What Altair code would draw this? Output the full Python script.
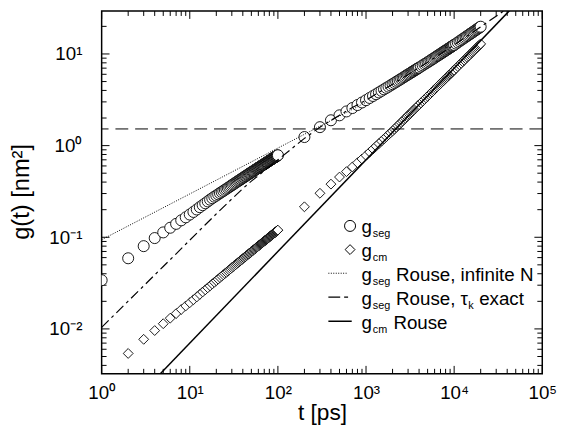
import altair as alt
import pandas as pd

FONT = "Liberation Sans, Arial, Helvetica, sans-serif"
W, H = 447, 368

# ---- data ----
t_data = list(range(1, 101)) + \
    [200, 300, 400, 500, 600, 700, 800, 900] + \
    [1000, 1100, 1200, 1300, 1400, 1500, 1600, 1700, 1800, 1900,
     2000, 2100, 2200, 2300, 2400, 2500, 2600, 2700, 2800, 2900,
     3000, 3100, 3200, 3300, 3400, 3500, 3600, 3700, 3800, 3900, 4000] + \
    [4200, 4400, 4600, 4800, 5000, 5200, 5400, 5600, 5800, 6000,
     6200, 6400, 6600, 6800, 7000, 7200, 7400, 7600, 7800, 8000,
     8200, 8400, 8600, 8800, 9000, 9200, 9400, 9600, 9800, 10000] + \
    [10500, 11000, 11500, 12000, 12500, 13000, 13500, 14000, 14500, 15000,
     15500, 16000, 16500, 17000, 17500, 18000, 18500, 19000, 19500, 20000]

g_seg = [0.034, 0.059, 0.080, 0.098, 0.113, 0.127, 0.140, 0.153, 0.165, 0.177,
         0.189, 0.201, 0.213, 0.224, 0.235, 0.246, 0.257, 0.267, 0.277, 0.285,
         0.294, 0.303, 0.312, 0.320, 0.329, 0.337, 0.345, 0.353, 0.361, 0.369,
         0.377, 0.385, 0.393, 0.400, 0.408, 0.415, 0.422, 0.429, 0.437, 0.444,
         0.451, 0.458, 0.465, 0.471, 0.478, 0.485, 0.492, 0.498, 0.505, 0.511,
         0.518, 0.524, 0.530, 0.536, 0.543, 0.549, 0.555, 0.561, 0.567, 0.573,
         0.579, 0.585, 0.591, 0.596, 0.602, 0.608, 0.613, 0.619, 0.624, 0.630,
         0.636, 0.641, 0.647, 0.652, 0.658, 0.663, 0.669, 0.674, 0.680, 0.685,
         0.690, 0.696, 0.701, 0.706, 0.711, 0.716, 0.722, 0.727, 0.732, 0.737,
         0.742, 0.747, 0.752, 0.757, 0.762, 0.767, 0.771, 0.776, 0.780, 0.785,
         1.24, 1.59, 1.89, 2.14, 2.36, 2.57, 2.77, 2.955,
         3.13, 3.31, 3.48, 3.64, 3.80, 3.96, 4.11, 4.26, 4.40, 4.54,
         4.68, 4.82, 4.96, 5.09, 5.22, 5.35, 5.48, 5.60, 5.73, 5.85,
         5.97, 6.09, 6.20, 6.32, 6.43, 6.55, 6.66, 6.77, 6.88, 6.99, 7.09,
         7.30, 7.51, 7.72, 7.91, 8.11, 8.31, 8.51, 8.71, 8.90, 9.10,
         9.29, 9.48, 9.66, 9.84, 10.03, 10.20, 10.38, 10.56, 10.73, 10.90,
         11.08, 11.24, 11.41, 11.58, 11.74, 11.91, 12.07, 12.23, 12.39, 12.55,
         12.96, 13.36, 13.76, 14.16, 14.54, 14.92, 15.30, 15.67, 16.03, 16.40,
         16.75, 17.11, 17.47, 17.81, 18.16, 18.50, 18.84, 19.17, 19.50, 19.83]

# g_cm starts at t = 2 (t = 1 lies below the axis)
g_cm = [0.0054, 0.0077, 0.0096, 0.0114, 0.0131, 0.0147, 0.0163, 0.0178, 0.0193,
        0.0208, 0.0223, 0.0238, 0.0253, 0.0267, 0.0281, 0.0295, 0.0309, 0.0323, 0.0336,
        0.0349, 0.0363, 0.0376, 0.0389, 0.0402, 0.0414, 0.0427, 0.0440, 0.0452, 0.0465,
        0.0477, 0.0489, 0.0501, 0.0513, 0.0525, 0.0537, 0.0549, 0.0560, 0.0572, 0.0584,
        0.0596, 0.0607, 0.0618, 0.0629, 0.0641, 0.0652, 0.0663, 0.0674, 0.0685, 0.0696,
        0.0707, 0.0718, 0.0729, 0.0740, 0.0751, 0.0761, 0.0772, 0.0783, 0.0794, 0.0804,
        0.0814, 0.0825, 0.0835, 0.0846, 0.0856, 0.0866, 0.0876, 0.0887, 0.0897, 0.0907,
        0.0917, 0.0927, 0.0937, 0.0947, 0.0957, 0.0967, 0.0977, 0.0986, 0.0996, 0.1006,
        0.1016, 0.1026, 0.1035, 0.1045, 0.1055, 0.1065, 0.1074, 0.1084, 0.1093, 0.1103,
        0.1112, 0.1122, 0.1131, 0.1141, 0.1150, 0.1159, 0.1169, 0.1178, 0.1188, 0.1197,
        0.215, 0.302, 0.380, 0.454, 0.52, 0.585, 0.65, 0.715,
        0.78, 0.849, 0.917, 0.985, 1.052, 1.119, 1.185, 1.251, 1.316, 1.381,
        1.445, 1.513, 1.582, 1.650, 1.718, 1.786, 1.854, 1.922, 1.990, 2.057,
        2.124, 2.192, 2.259, 2.326, 2.393, 2.459, 2.526, 2.592, 2.659, 2.725, 2.792,
        2.924, 3.055, 3.187, 3.318, 3.449, 3.580, 3.710, 3.840, 3.970, 4.101,
        4.231, 4.361, 4.490, 4.619, 4.749, 4.878, 5.006, 5.135, 5.263, 5.391,
        5.520, 5.648, 5.775, 5.903, 6.029, 6.159, 6.286, 6.413, 6.540, 6.663,
        6.979, 7.294, 7.608, 7.923, 8.236, 8.550, 8.862, 9.174, 9.485, 9.796,
        10.106, 10.416, 10.724, 11.032, 11.340, 11.647, 11.953, 12.259, 12.566, 12.872]

# g_seg Rouse, tau_k exact (dash-dot)
t_exact = [1, 2, 3, 5, 7, 10, 15, 20, 30, 40, 50, 70, 100, 150, 200, 300, 500, 700,
           1000, 2000, 5000, 10000, 20000, 40000]
g_exact = [0.0104, 0.0201, 0.0295, 0.048, 0.066, 0.093, 0.137, 0.18, 0.262, 0.34, 0.41, 0.53,
           0.70, 0.96, 1.2, 1.59, 2.15, 2.6, 3.13, 4.68, 8.1, 12.55, 19.8, 31.3]

# g_seg Rouse, infinite N (dotted)
t_inf = [1, 10, 100, 1000]
g_inf = [0.094, 0.297, 0.94, 2.97]

# g_cm Rouse (solid)
t_rouse = [4, 45000]
g_rouse = [0.0028, 31.5]

# horizontal dashed line
g_hline = [1.52]

x_tick_values = [1, 10, 100, 1000, 10000, 100000]
x_tick_labels = ["10⁰", "10¹", "10²", "10³", "10⁴", "10⁵"]
y_tick_values = [0.01, 0.1, 1, 10]
y_tick_labels = ["10⁻²", "10⁻¹", "10⁰", "10¹"]

x_minor = [m * 10 ** e for e in range(0, 5) for m in range(2, 10)]
y_minor = [round(m * 10.0 ** e, 6) for e in range(-3, 2) for m in range(2, 10)
           if 0.00324 < m * 10.0 ** e < 29.4]

# ---- scales / axes ----
xs = alt.Scale(type="log", domain=[1, 1e5], nice=False)
ys = alt.Scale(type="log", domain=[0.00324, 29.4], nice=False)

x_expr = "[" + ",".join("'%s'" % s for s in x_tick_labels) + "][round(log(datum.value)/LN10)]"
y_expr = "[" + ",".join("'%s'" % s for s in y_tick_labels) + "][round(log(datum.value)/LN10)+2]"

xaxis = alt.Axis(values=x_tick_values, labelExpr=x_expr, ticks=False, domain=False, grid=False,
                 labelFont=FONT, labelFontSize=19, labelColor="black", labelPadding=10,
                 labelFlush=False, labelOverlap=False,
                 title="t [ps]", titleFont=FONT, titleFontSize=23, titleFontWeight="normal",
                 titleColor="black", titleX=W / 2, titleY=46, titleBaseline="alphabetic",
                 titleAlign="center")
yaxis = alt.Axis(values=y_tick_values, labelExpr=y_expr, ticks=False, domain=False, grid=False,
                 labelFont=FONT, labelFontSize=19, labelColor="black", labelPadding=20,
                 labelOverlap=False, labelFlush=False,
                 title="g(t) [nm²]", titleFont=FONT, titleFontSize=24, titleFontWeight="normal",
                 titleColor="black", titleX=-74, titleY=183, titleBaseline="alphabetic",
                 titleAngle=270, titleAlign="center")

X = alt.X("t:Q", scale=xs, axis=xaxis)
Y = alt.Y("g:Q", scale=ys, axis=yaxis)

df_seg = pd.DataFrame({"t": t_data, "g": g_seg})
df_cm = pd.DataFrame({"t": t_data[1:], "g": g_cm})
df_exact = pd.DataFrame({"t": t_exact, "g": g_exact})
df_inf = pd.DataFrame({"t": t_inf, "g": g_inf})
df_rouse = pd.DataFrame({"t": t_rouse, "g": g_rouse})
df_h = pd.DataFrame({"g": g_hline})

layers = []

# inward ticks on all four sides
def xticks(vals, length):
    d = pd.DataFrame({"t": vals})
    b = alt.Chart(d).mark_rule(color="black", strokeWidth=1).encode(
        x=X, y=alt.value(H), y2=alt.value(H - length))
    t = alt.Chart(d).mark_rule(color="black", strokeWidth=1).encode(
        x=X, y=alt.value(0), y2=alt.value(length))
    return [b, t]

def yticks(vals, length):
    d = pd.DataFrame({"g": vals})
    l = alt.Chart(d).mark_rule(color="black", strokeWidth=1).encode(
        y=Y, x=alt.value(0), x2=alt.value(length))
    r = alt.Chart(d).mark_rule(color="black", strokeWidth=1).encode(
        y=Y, x=alt.value(W), x2=alt.value(W - length))
    return [l, r]

layers += xticks(x_tick_values, 8) + xticks(x_minor, 5)
layers += yticks(y_tick_values, 8) + yticks(y_minor, 5)

# markers
seg_pts = alt.Chart(df_seg).mark_point(shape="circle", size=125, filled=True, fill="white",
                                       stroke="black", strokeWidth=0.9, opacity=1, clip=True).encode(x=X, y=Y)
cm_pts = alt.Chart(df_cm).mark_point(shape="diamond", size=100, filled=True, fill="white",
                                     stroke="black", strokeWidth=0.9, opacity=1, clip=True).encode(x=X, y=Y)

hline = alt.Chart(df_h).mark_rule(color="black", strokeWidth=1, strokeDash=[13, 7]).encode(y=Y)
inf_line = alt.Chart(df_inf).mark_line(color="black", strokeWidth=1, strokeDash=[1, 1.5], clip=True).encode(x=X, y=Y)
exact_line = alt.Chart(df_exact).mark_line(color="black", strokeWidth=1.2, strokeDash=[10, 4, 3, 4],
                                           clip=True).encode(x=X, y=Y)
rouse_line = alt.Chart(df_rouse).mark_line(color="black", strokeWidth=1.5, clip=True).encode(x=X, y=Y)

layers += [seg_pts, cm_pts, hline, inf_line, exact_line, rouse_line]

# legend (manual, for sub/superscripts)
dummy = pd.DataFrame({"d": [0]})

def txt(s, x, y, size=19):
    return alt.Chart(dummy).mark_text(text=s, font=FONT, fontSize=size, align="left",
                                      baseline="alphabetic", color="black").encode(
        x=alt.value(x), y=alt.value(y))

leg = [
    alt.Chart(dummy).mark_point(shape="circle", size=125, filled=True, fill="white", stroke="black",
                                strokeWidth=1, opacity=1).encode(x=alt.value(252), y=alt.value(218)),
    alt.Chart(dummy).mark_point(shape="diamond", size=100, filled=True, fill="white", stroke="black",
                                strokeWidth=1, opacity=1).encode(x=alt.value(252), y=alt.value(242)),
    alt.Chart(dummy).mark_rule(color="black", strokeWidth=1, strokeDash=[1, 1.5]).encode(
        x=alt.value(230), x2=alt.value(250), y=alt.value(266)),
    alt.Chart(dummy).mark_rule(color="black", strokeWidth=1.2, strokeDash=[12, 4, 4, 4]).encode(
        x=alt.value(230), x2=alt.value(250), y=alt.value(290.3)),
    alt.Chart(dummy).mark_rule(color="black", strokeWidth=1.5).encode(
        x=alt.value(230), x2=alt.value(253.7), y=alt.value(314.7)),
    txt("g", 263.7, 225.5), txt("seg", 275, 229.5, 11),
    txt("g", 263.7, 250), txt("cm", 275, 254, 11),
    txt("g", 263.7, 274), txt("seg", 275, 278, 11), txt("Rouse, infinite N", 298.7, 274),
    txt("g", 263.7, 298), txt("seg", 275, 302, 11), txt("Rouse, τ", 298.7, 298),
    txt("k", 372, 302, 11), txt("exact", 383, 298),
    txt("g", 263.7, 322.5), txt("cm", 275, 326.5, 11), txt("Rouse", 296, 322.5),
]
layers += leg

chart = alt.layer(*layers).properties(
    width=W, height=H,
    autosize=alt.AutoSizeParams(type="none"),
    padding={"left": 95, "top": 0, "right": 19, "bottom": 57},
).configure_view(stroke="black", strokeWidth=1.5)

chart.save("out.html", embed_options={"renderer": "svg", "actions": False})
